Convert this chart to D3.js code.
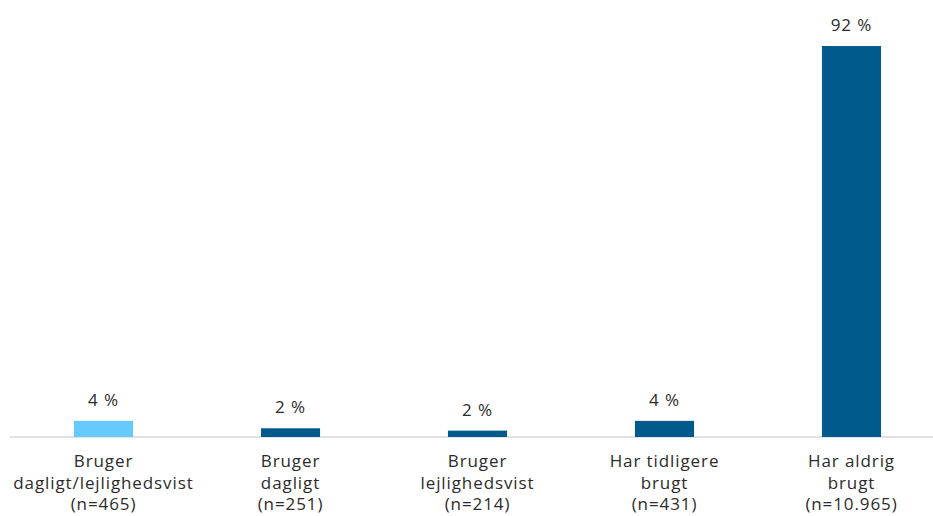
<!DOCTYPE html>
<html><head><meta charset="utf-8">
<script src="https://cdn.jsdelivr.net/npm/d3@7"></script>
<style>html,body{margin:0;padding:0;background:#fff;}svg{display:block;}</style>
</head><body>
<script>
const categories = [
  ["Bruger", "dagligt/lejlighedsvist", "(n=465)"],
  ["Bruger", "dagligt", "(n=251)"],
  ["Bruger", "lejlighedsvist", "(n=214)"],
  ["Har tidligere", "brugt", "(n=431)"],
  ["Har aldrig", "brugt", "(n=10.965)"]
];
const values = [3.8, 2.05, 1.5, 3.8, 92];
const valueLabels = ["4 %", "2 %", "2 %", "4 %", "92 %"];
const highlight = [true, false, false, false, false];

const W = 933, H = 516;
const svg = d3.select("body").append("svg").attr("width", W).attr("height", H);
const font = "'Open Sans', Lato, sans-serif";
const ids = categories.map((c, i) => i);

const x = d3.scaleBand().domain(ids).range([10, 945]).paddingInner(0.684).paddingOuter(0.342);
const y = d3.scaleLinear().domain([0, 92]).range([437, 46]);

svg.append("line").attr("x1", 10).attr("x2", 933).attr("y1", y(0)).attr("y2", y(0))
  .attr("stroke", "#d9d9d9").attr("stroke-width", 1.5);

svg.selectAll("rect.bar").data(ids).join("rect").attr("class", "bar")
  .attr("x", i => x(i)).attr("width", x.bandwidth())
  .attr("y", i => y(values[i])).attr("height", i => y(0) - y(values[i]))
  .attr("fill", i => highlight[i] ? "#66c9ff" : "#005a8b");

svg.selectAll("text.val").data(ids).join("text").attr("class", "val")
  .attr("x", i => x(i) + x.bandwidth() / 2).attr("y", i => y(values[i]) - 15)
  .attr("text-anchor", "middle").attr("font-family", font).attr("font-size", 17)
  .attr("letter-spacing", 0.9).attr("fill", "#2b2b2b").text(i => valueLabels[i]);

const lab = svg.selectAll("text.cat").data(ids).join("text").attr("class", "cat")
  .attr("text-anchor", "middle").attr("font-family", font).attr("font-size", 17)
  .attr("letter-spacing", 0.9).attr("fill", "#2b2b2b");
lab.each(function(i) {
  const t = d3.select(this);
  categories[i].forEach((line, k) => {
    t.append("tspan").attr("x", x(i) + x.bandwidth() / 2).attr("y", 467 + k * 21.5).text(line);
  });
});
</script>
</body></html>
